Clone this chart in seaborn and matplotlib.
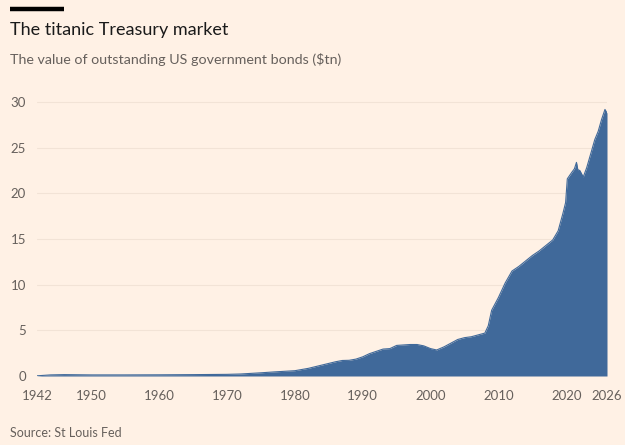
import numpy as np
import pandas as pd
import seaborn as sns
from matplotlib import pyplot as plt

# values ($tn)
years = [1942, 1944, 1946, 1950, 1955, 1960, 1965, 1970, 1972, 1975, 1977,
         1980, 1982, 1984, 1986, 1987, 1988, 1989, 1990, 1991, 1992, 1993,
         1994, 1995, 1996, 1997, 1998, 1999, 2000, 2000.9, 2002, 2003, 2004,
         2005, 2006, 2007, 2008, 2008.5, 2009, 2010, 2011, 2012, 2013, 2014,
         2015, 2016, 2017, 2018, 2018.8, 2019.5, 2019.9, 2020.15, 2020.8,
         2021.2, 2021.5, 2021.7, 2022, 2022.5, 2023, 2023.7, 2024.2, 2024.7,
         2025.2, 2025.7, 2026]
debt = [0.02, 0.12, 0.15, 0.12, 0.12, 0.13, 0.15, 0.18, 0.22, 0.35, 0.45,
        0.58, 0.84, 1.2, 1.56, 1.7, 1.72, 1.85, 2.1, 2.45, 2.7, 2.95,
        3.0, 3.35, 3.4, 3.45, 3.45, 3.3, 3.0, 2.85, 3.2, 3.6, 4.0,
        4.2, 4.3, 4.5, 4.7, 5.5, 7.2, 8.6, 10.2, 11.5, 12.0, 12.6,
        13.2, 13.7, 14.3, 14.9, 15.9, 17.8, 19.0, 21.6, 22.3,
        22.7, 23.4, 22.6, 22.5, 21.8, 22.8, 24.6, 25.9, 26.8,
        28.1, 29.2, 28.8]

xticks = [1942, 1950, 1960, 1970, 1980, 1990, 2000, 2010, 2020, 2026]
yticks = [0, 5, 10, 15, 20, 25, 30]

df = pd.DataFrame({'Year': years, 'Debt': debt})

bg = '#fff1e5'
fill = '#40699a'
grey = '#66605c'

sns.set_theme(style='white')
plt.rcParams['font.family'] = ['Lato', 'DejaVu Sans']

fig = plt.figure(figsize=(6.25, 4.45), dpi=100, facecolor=bg)
ax = fig.add_axes([37 / 625, 69 / 445, 570 / 625, 283 / 445])
ax.set_facecolor(bg)

for y in yticks:
    ax.axhline(y, color='#f2e3d6', lw=0.8, zorder=0)

sns.lineplot(data=df, x='Year', y='Debt', ax=ax, color=fill, lw=0.8)
ax.fill_between(df['Year'], df['Debt'], color=fill, lw=0)

ax.set_xlim(1942, 2026)
ax.set_ylim(0, 31)
ax.set_xticks(xticks)
ax.set_yticks(yticks)
ax.set_xlabel('')
ax.set_ylabel('')
ax.tick_params(axis='both', length=0, labelsize=9.5, labelcolor=grey)
ax.tick_params(axis='x', pad=10)
ax.tick_params(axis='y', pad=8)
for s in ax.spines.values():
    s.set_visible(False)

fig.add_artist(plt.Line2D([10 / 625, 64 / 625], [1 - 9 / 445, 1 - 9 / 445],
                          color='black', lw=3.2, solid_capstyle='butt'))
fig.text(10 / 625, 1 - 30 / 445, 'The titanic Treasury market', fontsize=13,
         color='#1a1a1a', va='center')
fig.text(10 / 625, 1 - 59 / 445, 'The value of outstanding US government bonds ($tn)',
         fontsize=10.3, color=grey, va='center')
fig.text(10 / 625, 1 - 433 / 445, 'Source: St Louis Fed', fontsize=9,
         color=grey, va='center')

fig.savefig('out.png', dpi=100, facecolor=bg)
